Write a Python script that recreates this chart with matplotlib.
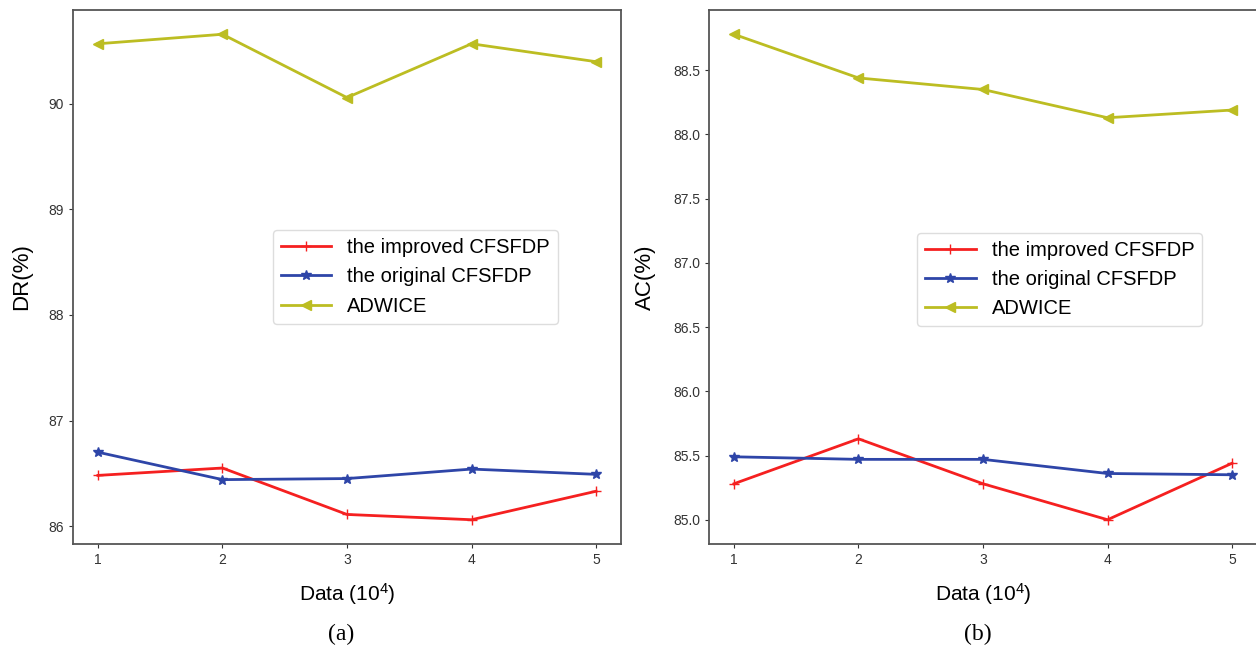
import matplotlib
matplotlib.use("Agg")
import matplotlib.pyplot as plt

plt.rcParams['font.family'] = ['Liberation Sans', 'DejaVu Sans']
plt.rcParams['mathtext.default'] = 'regular'

data_size = [1, 2, 3, 4, 5]
labels = ["the improved CFSFDP", "the original CFSFDP", "ADWICE"]

# (a) detection rate
dr_improved = [86.48, 86.55, 86.11, 86.06, 86.33]
dr_original = [86.70, 86.44, 86.45, 86.54, 86.49]
dr_adwice = [90.57, 90.66, 90.06, 90.57, 90.40]

# (b) accuracy
ac_improved = [85.28, 85.63, 85.28, 85.00, 85.44]
ac_original = [85.49, 85.47, 85.47, 85.36, 85.35]
ac_adwice = [88.78, 88.44, 88.35, 88.13, 88.19]

colors = ['#f52020', '#2e45a8', '#bcbd22']
markers = ['+', '*', '<']

fig = plt.figure(figsize=(12.56, 6.52), dpi=100)
W, H = 1256, 652
ax1 = fig.add_axes([73 / W, 1 - 544 / H, 548 / W, 534 / H])
ax2 = fig.add_axes([709 / W, 1 - 544 / H, 548 / W, 534 / H])

panels = [
    (ax1, [dr_improved, dr_original, dr_adwice], "DR(%)", "(a)", (0.625, 0.5)),
    (ax2, [ac_improved, ac_original, ac_adwice], "AC(%)", "(b)", (0.64, 0.495)),
]

for ax, series, ylab, cap, anchor in panels:
    for vals, c, m, lab in zip(series, colors, markers, labels):
        ax.plot(data_size, vals, color=c, marker=m, markersize=7, linewidth=2, label=lab)
    ax.set_xticks(data_size)
    ax.set_ylabel(ylab, fontsize=16, labelpad=12)
    ax.set_xlabel("Data (10$^{4}$)", fontsize=15, labelpad=10)
    ax.tick_params(labelsize=10, colors='#333333', length=3)
    for s in ax.spines.values():
        s.set_color('#555555')
        s.set_linewidth(1.3)
    ax.legend(loc='center', bbox_to_anchor=anchor, fontsize=14.5, handlelength=2.5,
              framealpha=1, edgecolor='#dddddd')
    ax.text(0.49, -0.15, cap, transform=ax.transAxes, ha='center', va='top',
            fontsize=17, family='Liberation Serif')

fig.savefig("out.png", dpi=100)
